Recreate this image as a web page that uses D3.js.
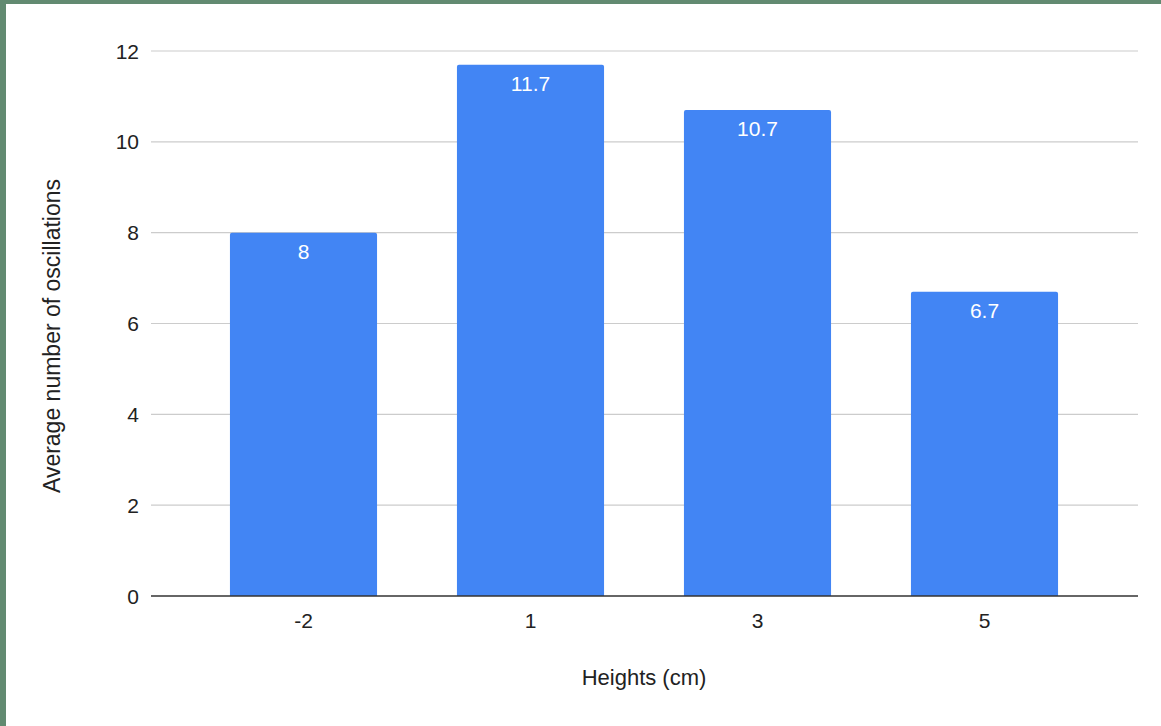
<!DOCTYPE html>
<html>
<head>
<meta charset="utf-8">
<script src="https://cdn.jsdelivr.net/npm/d3@7"></script>
<style>
  html, body { margin: 0; padding: 0; background: #628a71; }
  svg { display: block; }
  text { font-family: "Liberation Sans", Arial, sans-serif; }
</style>
</head>
<body>
<script>
// Average oscillations at each height
const heights = ["-2", "1", "3", "5"];
const oscillations = [8, 11.7, 10.7, 6.7];
const valueLabels = ["8", "11.7", "10.7", "6.7"];
const yTicks = [0, 2, 4, 6, 8, 10, 12];

const W = 1161, H = 726;
const svg = d3.select("body").append("svg").attr("width", W).attr("height", H);

// page frame: white panel inset inside the green border
svg.append("rect").attr("x", 6).attr("y", 4).attr("width", W - 6).attr("height", H - 4).attr("fill", "#ffffff");

const plotLeft = 151, plotRight = 1138, plotTop = 51, plotBottom = 596;

const x = d3.scaleBand().domain(heights).range([190, 1098]).paddingInner(0.352).paddingOuter(0.176);
const y = d3.scaleLinear().domain([0, 12]).range([plotBottom, plotTop]);

// horizontal gridlines
svg.append("g").selectAll("line").data(yTicks.filter(d => d !== 0)).join("line")
  .attr("x1", plotLeft).attr("x2", plotRight)
  .attr("y1", d => y(d)).attr("y2", d => y(d))
  .attr("stroke", "#cccccc").attr("stroke-width", 1.2);

// y tick labels
svg.append("g").selectAll("text").data(yTicks).join("text")
  .attr("x", 139).attr("y", d => y(d)).attr("dy", "0.36em")
  .attr("text-anchor", "end").attr("font-size", 21).attr("fill", "#222")
  .text(d => d);

// bars with slightly rounded top corners
const r = 2;
svg.append("g").selectAll("path").data(oscillations).join("path")
  .attr("fill", "#4285f4")
  .attr("d", (d, i) => {
    const x0 = x(heights[i]), x1 = x0 + x.bandwidth(), yt = y(d), yb = y(0);
    return `M${x0},${yb}V${yt + r}Q${x0},${yt} ${x0 + r},${yt}H${x1 - r}Q${x1},${yt} ${x1},${yt + r}V${yb}Z`;
  });

// value labels inside bar tops
svg.append("g").selectAll("text").data(oscillations).join("text")
  .attr("x", (d, i) => x(heights[i]) + x.bandwidth() / 2)
  .attr("y", d => y(d) + 26)
  .attr("text-anchor", "middle").attr("font-size", 21).attr("fill", "#ffffff")
  .text((d, i) => valueLabels[i]);

// baseline
svg.append("line").attr("x1", plotLeft).attr("x2", plotRight)
  .attr("y1", y(0)).attr("y2", y(0)).attr("stroke", "#333333").attr("stroke-width", 1.5);

// x tick labels
svg.append("g").selectAll("text").data(heights).join("text")
  .attr("x", d => x(d) + x.bandwidth() / 2).attr("y", 628)
  .attr("text-anchor", "middle").attr("font-size", 21).attr("fill", "#222")
  .text(d => d);

// axis titles
svg.append("text").attr("x", 644).attr("y", 685).attr("text-anchor", "middle")
  .attr("font-size", 22).attr("fill", "#222").text("Heights (cm)");

svg.append("text").attr("transform", "translate(60,336) rotate(-90)")
  .attr("text-anchor", "middle").attr("font-size", 23).attr("fill", "#222")
  .text("Average number of oscillations");
</script>
</body>
</html>
